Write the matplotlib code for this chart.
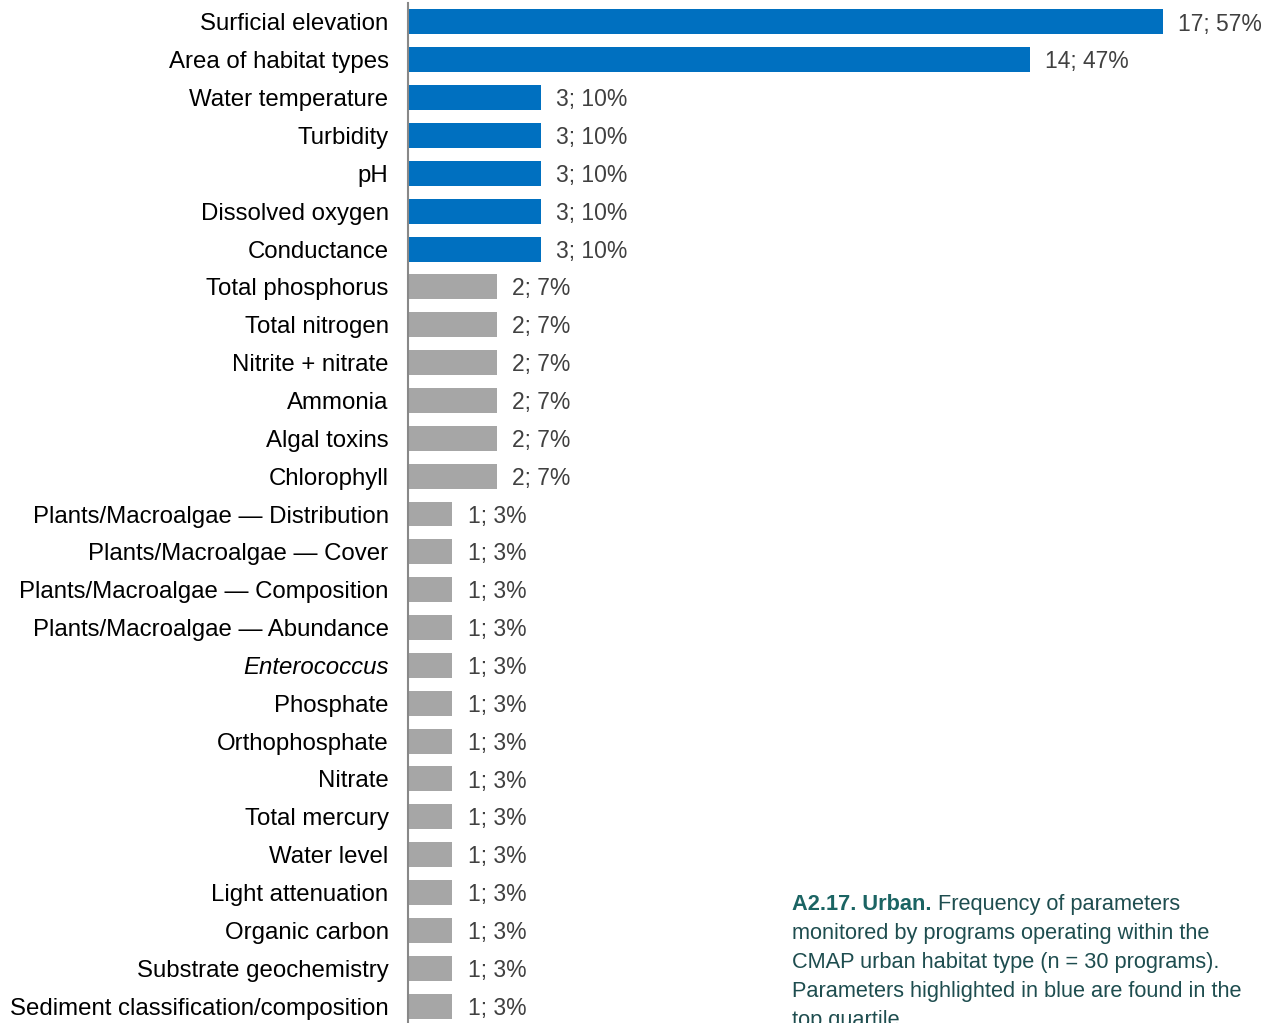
import matplotlib
matplotlib.use("Agg")
import matplotlib.pyplot as plt

# Parameters monitored in the urban habitat type, top to bottom
params = [
    "Surficial elevation", "Area of habitat types", "Water temperature",
    "Turbidity", "pH", "Dissolved oxygen", "Conductance",
    "Total phosphorus", "Total nitrogen", "Nitrite + nitrate", "Ammonia",
    "Algal toxins", "Chlorophyll",
    "Plants/Macroalgae — Distribution", "Plants/Macroalgae — Cover",
    "Plants/Macroalgae — Composition", "Plants/Macroalgae — Abundance",
    "Enterococcus", "Phosphate", "Orthophosphate", "Nitrate",
    "Total mercury", "Water level", "Light attenuation", "Organic carbon",
    "Substrate geochemistry", "Sediment classification/composition",
]
counts = [17, 14, 3, 3, 3, 3, 3, 2, 2, 2, 2, 2, 2,
          1, 1, 1, 1, 1, 1, 1, 1, 1, 1, 1, 1, 1, 1]
n_programs = 30
top_quartile = 7          # first 7 parameters are highlighted
italic_params = ["Enterococcus"]

caption_lead = "A2.17. Urban."
caption_lines = [
    "Frequency of parameters",
    "monitored by programs operating within the",
    "CMAP urban habitat type (n = 30 programs).",
    "Parameters highlighted in blue are found in the",
    "top quartile.",
]

BLUE = "#0070C0"
GREY = "#A6A6A6"

plt.rcParams["font.family"] = ["Liberation Sans", "DejaVu Sans"]

W, H = 1277, 1023
fig = plt.figure(figsize=(W / 100, H / 100), dpi=100)
# axes placed in pixel terms: spine at x=408, rows from y=3 to y=1025
ax = fig.add_axes([408 / W, (H - 1025) / H, (W - 408) / W, 1022 / H])

ypos = list(range(len(params)))
colors = [BLUE if i < top_quartile else GREY for i in ypos]
bars = ax.barh(ypos, counts, height=0.66, color=colors)

for rect, c in zip(bars, counts):
    pct = round(c / n_programs * 100)
    ax.annotate(f"{c}; {pct}%", (rect.get_width(), rect.get_y() + rect.get_height() / 2),
                xytext=(11, -1.5), textcoords="offset points", va="center", ha="left",
                fontsize=16.5, color="#404040")

ax.set_yticks(ypos)
ax.set_yticklabels(params, fontsize=17.3, color="black")
for lbl in ax.get_yticklabels():
    if lbl.get_text() in italic_params:
        lbl.set_fontstyle("italic")
ax.tick_params(axis="y", length=0, pad=14)
ax.set_ylim(len(params) - 0.5, -0.5)
ax.set_xlim(0, (W - 408) / 44.4)
ax.set_xticks([])

for side in ["top", "right", "bottom"]:
    ax.spines[side].set_visible(False)
ax.spines["left"].set_color("#888888")
ax.spines["left"].set_linewidth(1.5)

# caption: bold lead-in, then body lines every 29 px
cap_x = 792 / W
lead = fig.text(cap_x, 1 - 910 / H, caption_lead, fontsize=15.7, fontweight="bold",
                color="#1B6463", va="baseline")
fig.canvas.draw()
bb = lead.get_window_extent()
for i, line in enumerate(caption_lines):
    x = (bb.x1 + 6) / W if i == 0 else cap_x
    fig.text(x, 1 - (910 + 29 * i) / H, line, fontsize=15.7,
             color="#1E4D4F", va="baseline")

fig.savefig("out.png", dpi=100)
